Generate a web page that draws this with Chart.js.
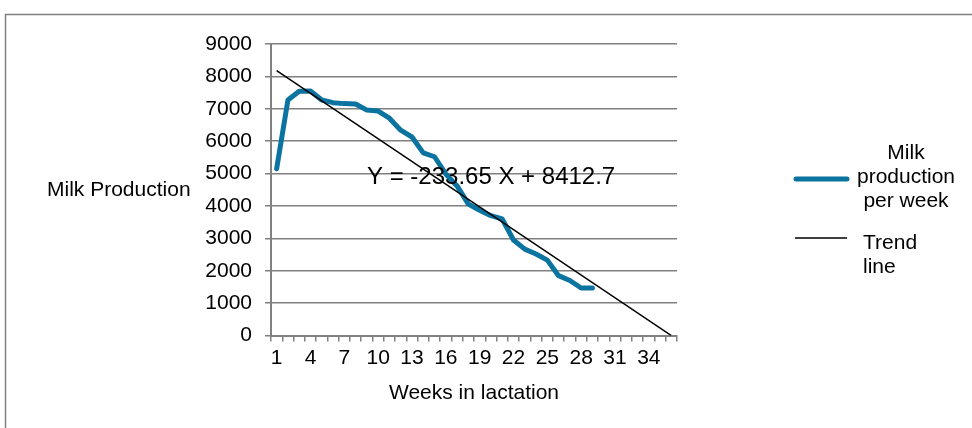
<!DOCTYPE html>
<html>
<head>
<meta charset="utf-8">
<script src="https://cdn.jsdelivr.net/npm/chart.js@4/dist/chart.umd.min.js"></script>
<style>
    html, body { margin: 0; padding: 0; background: #fff; }
    canvas { display: block; }
</style>
</head>
<body>
<canvas id="chart" width="972" height="428"></canvas>
<script>
// 周数 (x 轴类别)
const weeks = ['1', '2', '3', '4', '5', '6', '7', '8', '9', '10', '11', '12', '13', '14', '15', '16', '17', '18',
    '19', '20', '21', '22', '23', '24', '25', '26', '27', '28', '29', '30', '31', '32', '33', '34', '35', '36']
// 每周产奶量
const milkPerWeek = [5150, 7270, 7540, 7550, 7270, 7190, 7160, 7150, 6960, 6930, 6710, 6340, 6130, 5640, 5520,
    4990, 4620, 4060, 3870, 3700, 3600, 2950, 2670, 2520, 2330, 1850, 1700, 1470, 1470]
// 趋势线两端
const trendPoints = [{x: '1', y: 8180}, {x: '36', y: 0}]
const yTicks = [0, 1000, 2000, 3000, 4000, 5000, 6000, 7000, 8000, 9000]
const xShownLabels = ['1', '4', '7', '10', '13', '16', '19', '22', '25', '28', '31', '34']

const equation = 'Y = -233.65 X + 8412.7'
const yTitle = 'Milk Production'
const legendItems = [
    {lines: ['Milk', 'production', 'per week'], color: '#0b73a0', width: 5},
    {lines: ['Trend', 'line'], color: '#000000', width: 1.5}
]

const FONT = '"Liberation Sans", Arial, sans-serif'
const BLUE = '#0b73a0'
const GRID = '#808080'

const frame = { // 外框
    id: 'frame',
    beforeDraw(chart) {
        const ctx = chart.ctx
        ctx.save()
        ctx.fillStyle = '#fff'
        ctx.fillRect(0, 0, chart.width, chart.height)
        ctx.strokeStyle = GRID
        ctx.lineWidth = 1.5
        ctx.strokeRect(5.5, 14.5, 1000, 1000)
        ctx.restore()
    }
}

const extras = { // 额外文字: 方程, y 轴标题, 图例
    id: 'extras',
    afterDraw(chart) {
        const ctx = chart.ctx
        const area = chart.chartArea
        ctx.save()
        ctx.fillStyle = '#000'

        // y 轴标题
        ctx.font = '21px ' + FONT
        ctx.textAlign = 'left'
        ctx.textBaseline = 'middle'
        ctx.fillText(yTitle, 47, (area.top + area.bottom) / 2)

        // 方程
        ctx.font = '24px ' + FONT
        ctx.textBaseline = 'alphabetic'
        ctx.fillText(equation, 367, 184)

        // 图例
        ctx.font = '21px ' + FONT
        ctx.textBaseline = 'middle'
        ctx.lineCap = 'round'
        // 第一项
        ctx.strokeStyle = legendItems[0].color
        ctx.lineWidth = legendItems[0].width
        ctx.beginPath()
        ctx.moveTo(796, 179)
        ctx.lineTo(847, 179)
        ctx.stroke()
        ctx.textAlign = 'center'
        legendItems[0].lines.forEach((t, i) => ctx.fillText(t, 906, 153 + i * 24))
        // 第二项
        ctx.lineCap = 'butt'
        ctx.strokeStyle = legendItems[1].color
        ctx.lineWidth = legendItems[1].width
        ctx.beginPath()
        ctx.moveTo(795, 238)
        ctx.lineTo(847, 238)
        ctx.stroke()
        ctx.textAlign = 'left'
        legendItems[1].lines.forEach((t, i) => ctx.fillText(t, 863, 243 + i * 24))

        ctx.restore()
    }
}

new Chart(document.getElementById('chart'), {
    type: 'line',
    data: {
        labels: weeks,
        datasets: [
            {
                label: 'Milk production per week',
                data: milkPerWeek,
                borderColor: BLUE,
                borderWidth: 5,
                pointRadius: 0,
                tension: 0,
                borderCapStyle: 'round',
                borderJoinStyle: 'round',
                order: 2
            },
            {
                label: 'Trend line',
                data: trendPoints,
                borderColor: '#000',
                borderWidth: 1.5,
                pointRadius: 0,
                order: 1
            }
        ]
    },
    options: {
        responsive: false,
        animation: false,
        devicePixelRatio: 1,
        layout: {padding: {left: 200, right: 295, top: 44, bottom: 22}},
        plugins: {
            legend: {display: false},
            tooltip: {enabled: false}
        },
        scales: {
            x: {
                type: 'category',
                offset: true,
                grid: {
                    offset: true,
                    drawOnChartArea: false,
                    drawTicks: true,
                    tickLength: 6,
                    color: GRID,
                    lineWidth: 1.5
                },
                border: {color: GRID, width: 2},
                ticks: {
                    autoSkip: false,
                    maxRotation: 0,
                    padding: 4,
                    color: '#000',
                    font: {family: FONT, size: 21},
                    callback(value) {
                        const l = this.getLabelForValue(value)
                        return xShownLabels.includes(l) ? l : ''
                    }
                },
                title: {
                    display: true,
                    text: 'Weeks in lactation',
                    color: '#000',
                    font: {family: FONT, size: 21},
                    padding: {top: 6, bottom: 0}
                }
            },
            y: {
                min: 0,
                max: 9000,
                afterBuildTicks(scale) {
                    scale.ticks = yTicks.map(v => ({value: v}))
                },
                afterFit(scale) {
                    scale.width = 71
                },
                grid: {
                    color: GRID,
                    lineWidth: 1.5,
                    tickLength: 6
                },
                border: {color: GRID, width: 2},
                ticks: {
                    padding: 13,
                    color: '#000',
                    font: {family: FONT, size: 21},
                    callback: v => String(v)
                }
            }
        }
    },
    plugins: [frame, extras]
})
</script>
</body>
</html>
